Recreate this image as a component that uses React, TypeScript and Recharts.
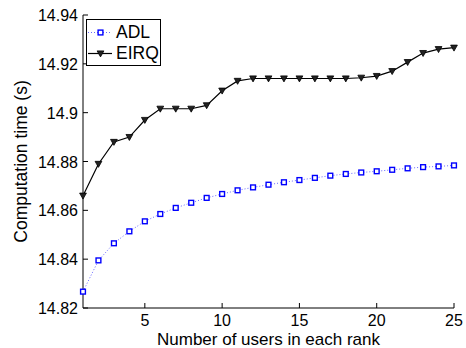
import { LineChart, Line, XAxis, YAxis, Legend } from 'recharts';

const users = [1, 2, 3, 4, 5, 6, 7, 8, 9, 10, 11, 12, 13, 14, 15, 16, 17, 18, 19, 20, 21, 22, 23, 24, 25];
const adl = [
    14.8267, 14.8395, 14.8465, 14.8514, 14.8555, 14.8585, 14.861, 14.8631, 14.8651, 14.8667,
    14.8682, 14.8694, 14.8705, 14.8715, 14.8724, 14.8733, 14.8742, 14.8749, 14.8755, 14.876,
    14.8766, 14.8772, 14.8777, 14.878, 14.8784,
];
const eirq = [
    14.866, 14.879, 14.888, 14.89, 14.897, 14.9016, 14.9016, 14.9016, 14.903, 14.909,
    14.913, 14.914, 14.914, 14.914, 14.914, 14.914, 14.914, 14.914, 14.9143, 14.915,
    14.917, 14.9207, 14.9244, 14.926, 14.9266,
];
const xTicks = [5, 10, 15, 20, 25];
const yTicks = [14.82, 14.84, 14.86, 14.88, 14.9, 14.92, 14.94];

const data = users.map((u, i) => ({ users: u, ADL: adl[i], EIRQ: eirq[i] }));

const FONT = '"Liberation Sans", Arial, Helvetica, sans-serif';

const square = (cx: number, cy: number, key?: any) => (
    <rect key={key} x={cx - 2.4} y={cy - 2.4} width={4.8} height={4.8} fill="#fff" stroke="#0000ff" strokeWidth={1.4} />
);

const triangle = (cx: number, cy: number, key?: any) => (
    <path key={key} d={`M${cx - 3.4},${cy - 2.6}L${cx + 3.4},${cy - 2.6}L${cx},${cy + 3.4}Z`} fill="#222" stroke="#000" strokeWidth={0.8} />
);

// MATLAB style ticks: drawn inside the box
const BottomTick = ({ x, y, payload }: any) => (
    <g>
        <line x1={x} y1={y} x2={x} y2={y - 5} stroke="#000" />
        <text x={x} y={y + 18} textAnchor="middle" fontSize={16} fill="#000" fontFamily={FONT}>{payload.value}</text>
    </g>
);
const TopTick = ({ x, y }: any) => <line x1={x} y1={y} x2={x} y2={y + 5} stroke="#000" />;
const LeftTick = ({ x, y, payload }: any) => (
    <g>
        <line x1={x} y1={y} x2={x + 5} y2={y} stroke="#000" />
        <text x={x - 5} y={y + 6} textAnchor="end" fontSize={16} fill="#000" fontFamily={FONT}>
            {String(+payload.value.toFixed(2))}
        </text>
    </g>
);
const RightTick = ({ x, y }: any) => <line x1={x} y1={y} x2={x - 5} y2={y} stroke="#000" />;

const XTitle = ({ viewBox }: any) => (
    <text x={viewBox.x + viewBox.width / 2} y={viewBox.y + 37} textAnchor="middle" fontSize={17} fill="#000" fontFamily={FONT}>
        Number of users in each rank
    </text>
);
const YTitle = ({ viewBox }: any) => {
    const cx = viewBox.x + 27;
    const cy = viewBox.y + viewBox.height / 2;
    return (
        <text x={cx} y={cy} transform={`rotate(-90 ${cx} ${cy})`} textAnchor="middle" fontSize={17.5} fill="#000" fontFamily={FONT}>
            Computation time (s)
        </text>
    );
};

const LegendBox = ({ payload }: any) => (
    <div style={{ width: 75, height: 47, boxSizing: 'border-box', border: '1px solid #000', background: '#fff', padding: '2px 0 0 1px', fontFamily: FONT }}>
        {(payload || []).map((entry: any) => (
            <div key={entry.value} style={{ display: 'flex', alignItems: 'center', height: 21 }}>
                <svg width={26} height={21}>
                    {entry.value === 'ADL' ? (
                        <>
                            <line x1={0} y1={10.5} x2={24} y2={10.5} stroke="#0000ff" strokeOpacity={0.6} strokeDasharray="1 2" />
                            {square(12.5, 10.5)}
                        </>
                    ) : (
                        <>
                            <line x1={0} y1={10.5} x2={24} y2={10.5} stroke="#000" strokeWidth={1.2} />
                            {triangle(12.5, 10.5)}
                        </>
                    )}
                </svg>
                <span style={{ fontSize: 17.5, marginLeft: 2, lineHeight: '21px', color: '#000' }}>{entry.value}</span>
            </div>
        ))}
    </div>
);

export default function App() {
    return (
        <div style={{ position: 'absolute', left: 0, top: 0, width: 466, height: 348, background: '#fff' }}>
            <LineChart width={466} height={348} data={data} margin={{ top: 15, right: 12, bottom: 0, left: 0 }}>
                <XAxis dataKey="users" type="number" domain={[1, 25]} ticks={xTicks} height={40}
                    tickSize={0} tickMargin={0} tick={<BottomTick />} stroke="#000" label={<XTitle />} />
                <XAxis xAxisId="top" orientation="top" type="number" domain={[1, 25]} ticks={xTicks} height={0}
                    tickSize={0} tickMargin={0} tick={<TopTick />} stroke="#000" />
                <YAxis type="number" domain={[14.82, 14.94]} ticks={yTicks} width={83}
                    tickSize={0} tickMargin={0} tick={<LeftTick />} stroke="#000" label={<YTitle />} />
                <YAxis yAxisId="right" orientation="right" type="number" domain={[14.82, 14.94]} ticks={yTicks} width={0}
                    tickSize={0} tickMargin={0} tick={<RightTick />} stroke="#000" />
                <Legend layout="horizontal" verticalAlign="middle" align="center"
                    wrapperStyle={{ left: 86, top: 19, width: 75 }} content={<LegendBox />} />
                <Line dataKey="ADL" name="ADL" stroke="#0000ff" strokeOpacity={0.6} strokeWidth={1} strokeDasharray="1 2"
                    dot={(p: any) => square(p.cx, p.cy, p.index)} isAnimationActive={false} />
                <Line dataKey="EIRQ" name="EIRQ" stroke="#000" strokeWidth={1.2}
                    dot={(p: any) => triangle(p.cx, p.cy, p.index)} isAnimationActive={false} />
            </LineChart>
        </div>
    );
}
